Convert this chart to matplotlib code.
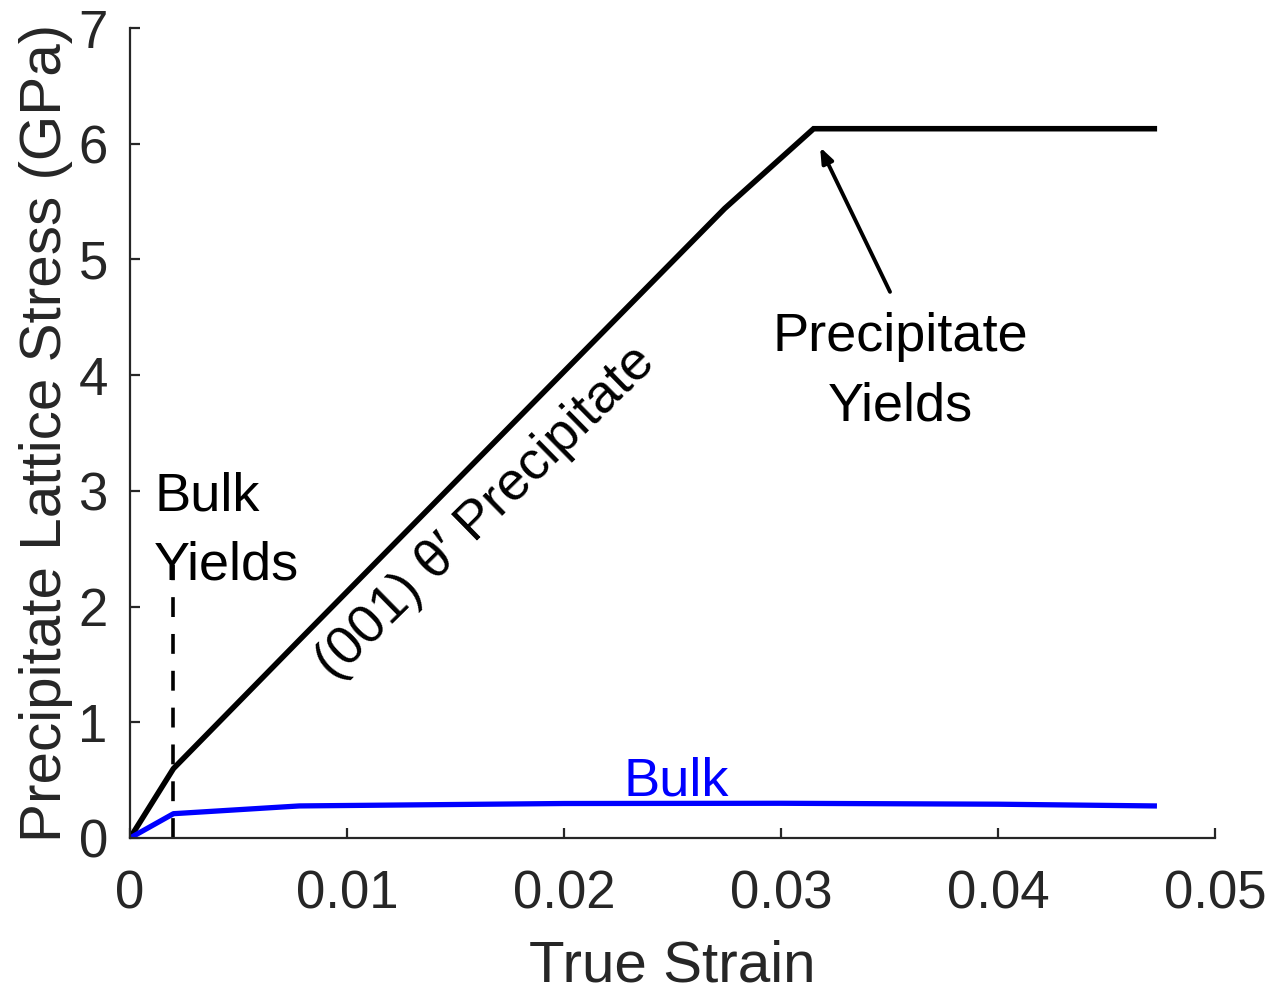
import matplotlib
matplotlib.use("Agg")
import matplotlib.pyplot as plt

plt.rcParams['font.family'] = ['Liberation Sans', 'DejaVu Sans']

# Precipitate (001) theta' lattice stress vs. true strain
precip_strain = [0.0, 0.002, 0.0078, 0.0274, 0.0315, 0.0472]
precip_stress = [0.0, 0.60, 1.71, 5.44, 6.13, 6.13]

# Bulk response
bulk_strain = [0.0, 0.002, 0.0078, 0.0124, 0.020, 0.030, 0.040, 0.0472]
bulk_stress = [0.0, 0.21, 0.277, 0.285, 0.298, 0.30, 0.292, 0.277]

bulk_yield_strain = 0.002
bulk_yield_top = 2.36

xticks = [0, 0.01, 0.02, 0.03, 0.04, 0.05]
xticklabels = ['0', '0.01', '0.02', '0.03', '0.04', '0.05']
yticks = [0, 1, 2, 3, 4, 5, 6, 7]

axis_color = '#262626'
tick_fs = 38
label_fs = 42
note_fs = 39

fig = plt.figure(figsize=(12.75, 9.91), dpi=100)
ax = fig.add_axes([0.102, 0.1544, 0.851, 0.8173])

ax.plot(precip_strain, precip_stress, color='black', lw=4.0, solid_joinstyle='miter')
ax.plot(bulk_strain, bulk_stress, color='#0000ff', lw=3.8)
ax.plot([bulk_yield_strain, bulk_yield_strain], [0, bulk_yield_top],
        color='black', lw=2.6, ls=(0, (5.5, 4.7)))

ax.set_xlim(0, 0.05)
ax.set_ylim(0, 7)
ax.set_xticks(xticks)
ax.set_xticklabels(xticklabels)
ax.set_yticks(yticks)

for side in ['top', 'right']:
    ax.spines[side].set_visible(False)
for side in ['left', 'bottom']:
    ax.spines[side].set_color(axis_color)
    ax.spines[side].set_linewidth(1.6)

ax.tick_params(axis='both', direction='in', length=7, width=1.6,
               colors=axis_color, labelsize=tick_fs)
ax.tick_params(axis='x', pad=23)
ax.tick_params(axis='y', pad=16)

ax.set_xlabel('True Strain', fontsize=label_fs, color=axis_color, labelpad=14)
ax.set_ylabel('Precipitate Lattice Stress (GPa)', fontsize=label_fs,
              color=axis_color, labelpad=4)

ax.text(0.0164, 2.81, "(001) θ′ Precipitate", rotation=44.5, fontsize=note_fs,
        ha='center', va='center', rotation_mode='anchor')
ax.text(0.00111, 2.23, "Bulk\nYields", fontsize=note_fs, ha='left',
        va='baseline', linespacing=1.5)
ax.text(0.03548, 3.61, "Precipitate\nYields", fontsize=note_fs, ha='center',
        va='baseline', linespacing=1.5)
ax.text(0.02516, 0.37, "Bulk", fontsize=note_fs, color='#0000ff',
        ha='center', va='baseline')

ax.annotate('', xy=(0.0318, 5.97), xytext=(0.03502, 4.72),
            arrowprops=dict(arrowstyle='-|>,head_length=0.9,head_width=0.35',
                            color='black', lw=2.8, shrinkA=0, shrinkB=0))

fig.savefig('out.png', dpi=100)
